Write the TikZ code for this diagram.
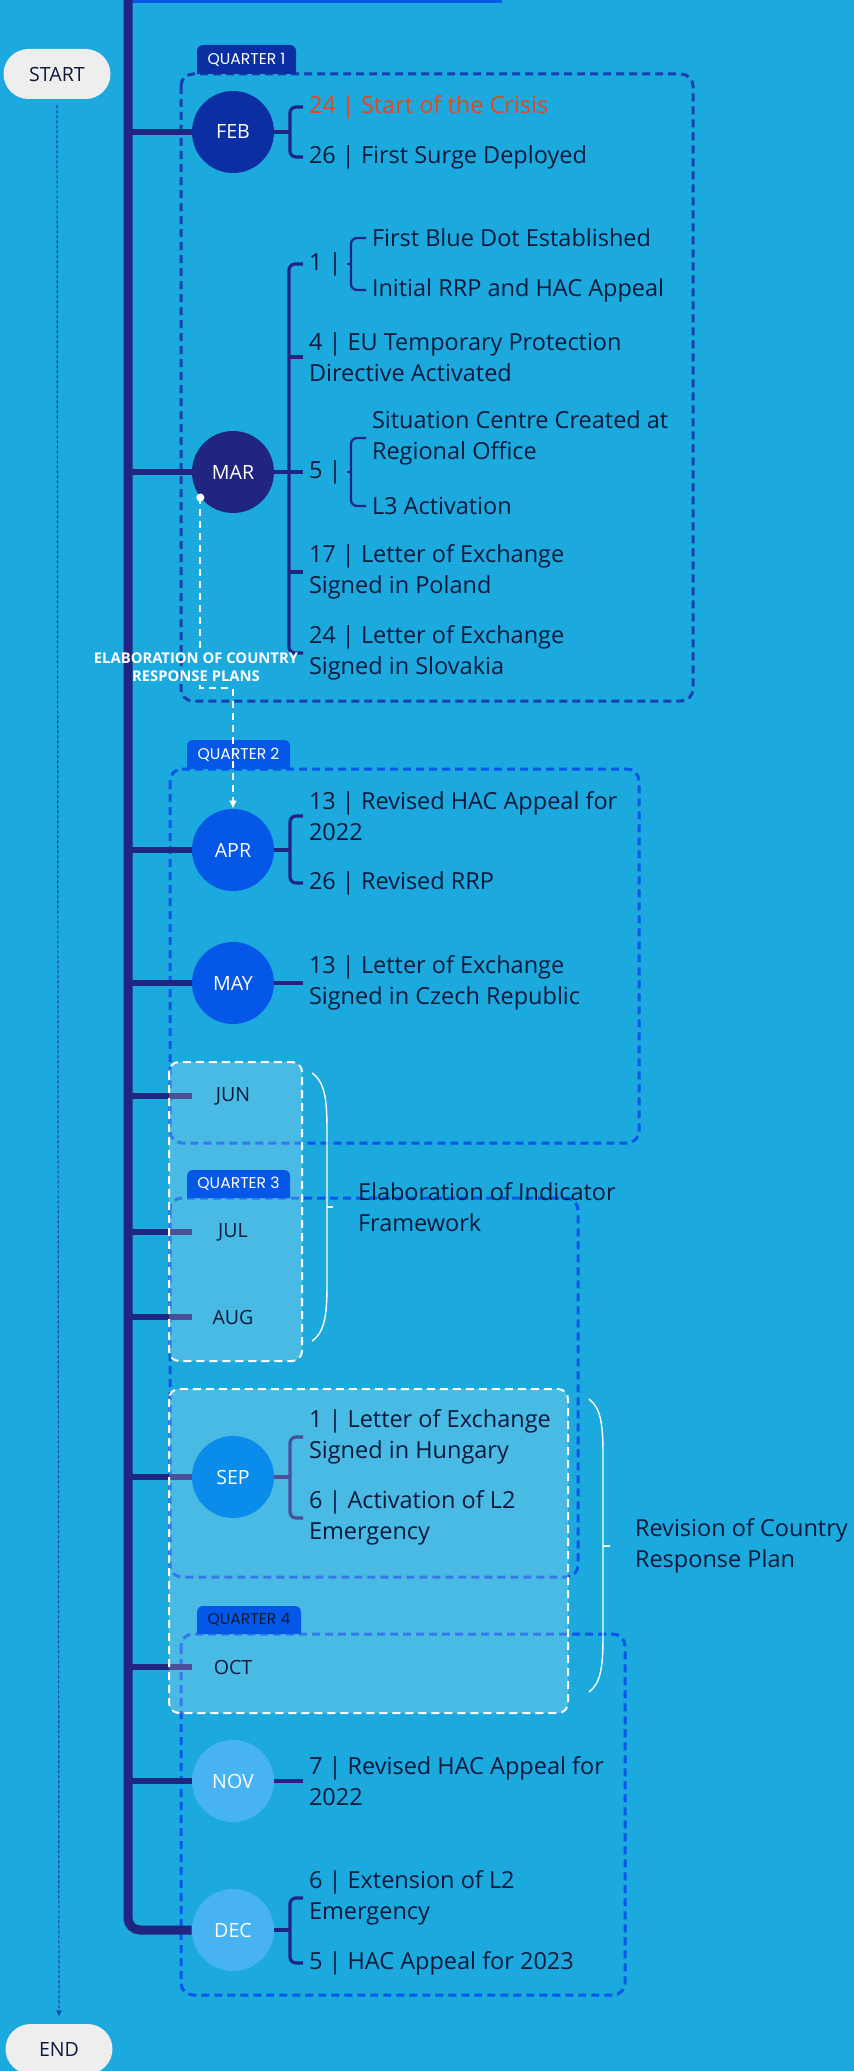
\documentclass[tikz,border=0pt]{standalone}
\usepackage{fontspec}
\setmainfont{Open Sans}
\newfontfamily\tabfont{Poppins}
\usetikzlibrary{arrows.meta}

\definecolor{bgblue}{HTML}{1BA9DE}
\definecolor{navy}{HTML}{1F2580}
\definecolor{febblue}{HTML}{0B2FA3}
\definecolor{brightblue}{HTML}{0557E8}
\definecolor{sepblue}{HTML}{0A8DEA}
\definecolor{lightblue}{HTML}{48B3F3}
\definecolor{qoneline}{HTML}{1540B0}
\definecolor{txtdark}{HTML}{0E1A3C}
\definecolor{crisis}{HTML}{E8461C}
\definecolor{pillgray}{HTML}{EEEEEE}

\pgfdeclarelayer{back}
\pgfdeclarelayer{veil}
\pgfsetlayers{back,veil,main}

\newcommand{\itemfont}{\fontsize{11.75pt}{15.5pt}\selectfont}
\newcommand{\monthfont}{\fontsize{9.8pt}{11pt}\selectfont}
\newcommand{\tabsize}{\tabfont\fontsize{7.8pt}{9pt}\selectfont}
\newcommand{\cpfont}{\bfseries\fontsize{7.4pt}{9pt}\selectfont}

\begin{document}
\begin{tikzpicture}[x=0.5pt,y=-0.5pt,
  month/.style={circle,minimum size=41pt,inner sep=0pt,text=white,font=\monthfont},
  monthtxt/.style={month,text=txtdark},
  itemtext/.style={anchor=west,align=left,inner sep=0pt,outer sep=3pt,text=txtdark,font=\itemfont},
  pill/.style={fill=pillgray,rounded corners=12.5pt,minimum width=53.5pt,minimum height=25pt,text=txtdark,font=\monthfont},
  tabtext/.style={text=white,font=\tabsize,inner sep=0pt},
  timeline/.style={draw=navy,line width=4.5pt,rounded corners=6pt},
  branch/.style={draw=navy,line width=3pt},
  bracketline/.style={draw=navy,line width=1.6pt,rounded corners=3pt},
  subbracket/.style={draw=navy,line width=1.1pt,rounded corners=3pt},
  qbox/.style={draw=brightblue,line width=1.5pt,dash pattern=on 4pt off 2.5pt,rounded corners=6pt},
  wbox/.style={draw=white,fill=white,fill opacity=0.2,draw opacity=1,line width=1pt,dash pattern=on 4pt off 2.5pt,rounded corners=5pt},
  bracecurve/.style={draw=white,line width=0.7pt},
  cpline/.style={draw=white,line width=1pt,dash pattern=on 3.5pt off 2.5pt},
  startline/.style={draw=qoneline,line width=0.6pt,dash pattern=on 1.5pt off 1pt}]

\useasboundingbox (0,0) rectangle (854,2071);

% background and quarters
\begin{pgfonlayer}{back}
\fill[bgblue] (0,0) rectangle (854,2071);
\draw[brightblue,line width=2pt] (125,1) -- (502,1);
\draw[qbox,draw=qoneline] (181,74) rectangle (693,701);
\draw[qbox] (170,769) rectangle (639,1143);
\draw[qbox] (170,1198) rectangle (578,1577);
\draw[qbox] (181,1634) rectangle (625,1995);
\end{pgfonlayer}

% start / end
\node[pill] (start) at (57,74) {START};
\node[pill] (end) at (59,2049) {END};

% months
\node[month,fill=febblue] (feb) at (233,132) {FEB};
\node[month,fill=navy] (mar) at (233,472) {MAR};
\node[month,fill=brightblue] (apr) at (233,850) {APR};
\node[month,fill=brightblue] (may) at (233,983) {MAY};
\node[monthtxt] (jun) at (233,1096) {JUN};
\node[monthtxt] (jul) at (233,1232) {JUL};
\node[monthtxt] (aug) at (233,1317) {AUG};
\node[month,fill=sepblue] (sep) at (233,1477) {SEP};
\node[monthtxt] (oct) at (233,1667) {OCT};
\node[month,fill=lightblue] (nov) at (233,1781) {NOV};
\node[month,fill=lightblue] (dec) at (233,1930) {DEC};

% events
\node[itemtext,text=crisis] (f1) at (303,107) {24 | Start of the Crisis};
\node[itemtext] (f2) at (303,157) {26 | First Surge Deployed};
\node[itemtext] (m1) at (303,264) {1 |};
\node[itemtext] (m1a) at (366,238) {First Blue Dot Established};
\node[itemtext] (m1b) at (366,290) {Initial RRP and HAC Appeal};
\node[itemtext] (m2) at (303,357) {4 | EU Temporary Protection\\Directive Activated};
\node[itemtext] (m3) at (303,472) {5 |};
\node[itemtext] (m3a) at (366,438) {Situation Centre Created at\\Regional Office};
\node[itemtext] (m3b) at (366,506) {L3 Activation};
\node[itemtext] (m4) at (303,572) {17 | Letter of Exchange\\Signed in Poland};
\node[itemtext] (m5) at (303,653) {24 | Letter of Exchange\\Signed in Slovakia};
\node[itemtext] (a1) at (303,816) {13 | Revised HAC Appeal for\\2022};
\node[itemtext] (a2) at (303,883) {26 | Revised RRP};
\node[itemtext] (y1) at (303,983) {13 | Letter of Exchange\\Signed in Czech Republic};
\node[itemtext] (s1) at (303,1437) {1 | Letter of Exchange\\Signed in Hungary};
\node[itemtext] (s2) at (303,1518) {6 | Activation of L2\\Emergency};
\node[itemtext] (n1) at (303,1781) {7 | Revised HAC Appeal for\\2022};
\node[itemtext] (d1) at (303,1898) {6 | Extension of L2\\Emergency};
\node[itemtext] (d2) at (303,1963) {5 | HAC Appeal for 2023};

\node[itemtext] (indlab) at (352,1207) {Elaboration of Indicator\\Framework};
\node[itemtext] (revlab) at (629,1546) {Revision of Country\\Response Plan};

\coordinate (tltop) at (128,0);
\coordinate (febk) at (290,132);
\coordinate (mark) at (289,472);
\coordinate (m1k) at (351,264);
\coordinate (m3k) at (351,472);
\coordinate (aprk) at (290,850);
\coordinate (sepk) at (290,1477);
\coordinate (deck) at (290,1930);

% lines
\begin{pgfonlayer}{back}
\draw[startline,-{Latex[length=3pt,width=3pt]},shorten <=3pt,shorten >=3.5pt] (start) -- (end);
\draw[timeline] (tltop) |- (dec);
\foreach \m in {feb,mar,apr,may,jun,jul,aug,sep,oct,nov}
  \draw[branch] (tltop |- \m) -- (\m);

\draw[bracketline] (feb) -- (febk);
\draw[bracketline] (f1.west) -| (febk) |- (f2.west);

\draw[bracketline] (mar) -- (m3.west);
\draw[bracketline] (m1.west) -| (mark) |- (m5.west);
\draw[bracketline] (mark |- m2.west) -- (m2.west);
\draw[bracketline] (mark |- m4.west) -- (m4.west);
\draw[subbracket] (m1.east) -- (m1k);
\draw[subbracket] (m1a.west) -| (m1k) |- (m1b.west);
\draw[subbracket] (m3.east) -- (m3k);
\draw[subbracket] (m3a.west) -| (m3k) |- (m3b.west);

\draw[bracketline] (apr) -- (aprk);
\draw[bracketline] (a1.west) -| (aprk) |- (a2.west);
\draw[bracketline] (may) -- (y1.west);
\draw[bracketline] (sep) -- (sepk);
\draw[bracketline] (s1.west) -| (sepk) |- (s2.west);
\draw[bracketline] (nov) -- (n1.west);
\draw[bracketline] (dec) -- (deck);
\draw[bracketline] (d1.west) -| (deck) |- (d2.west);
\end{pgfonlayer}

% highlighted periods
\begin{pgfonlayer}{veil}
\draw[wbox] (169,1062) rectangle (302,1361);
\draw[wbox] (169,1389) rectangle (568,1713);
\end{pgfonlayer}

% quarter tabs
\fill[febblue] (197,74) [rounded corners=3pt] -- (197,45) -- (296,45) [sharp corners] -- (296,74) -- cycle;
\node[tabtext] (q1) at (246.5,60) {QUARTER 1};
\fill[brightblue] (187,769) [rounded corners=3pt] -- (187,740) -- (290,740) [sharp corners] -- (290,769) -- cycle;
\node[tabtext] (q2) at (238.5,755) {QUARTER 2};
\fill[brightblue] (187,1198) [rounded corners=3pt] -- (187,1170) -- (290,1170) [sharp corners] -- (290,1198) -- cycle;
\node[tabtext] (q3) at (238.5,1184) {QUARTER 3};
\fill[brightblue] (197,1634) [rounded corners=3pt] -- (197,1606) -- (301,1606) [sharp corners] -- (301,1634) -- cycle;
\node[tabtext,text=txtdark] (q4) at (249,1620) {QUARTER 4};

% braces
\draw[bracecurve] (312,1073) .. controls (325,1082) and (327,1100) .. (327,1130) -- (327,1284) .. controls (327,1314) and (325,1332) .. (312,1341);
\draw[bracecurve] (327,1207) -- (333,1207);
\draw[bracecurve] (589,1399) .. controls (601,1408) and (603,1425) .. (603,1455) -- (603,1636) .. controls (603,1666) and (601,1683) .. (589,1692);
\draw[bracecurve] (603,1546) -- (610,1546);

% country response plans
\coordinate (cpdot) at (mar.218);
\fill[white] (cpdot) circle (2pt);
\node[text=white,font=\cpfont,align=center,inner sep=0pt,outer sep=2pt] (cplab) at (196,667) {ELABORATION OF COUNTRY\\RESPONSE PLANS};
\draw[cpline] (cpdot) -- (cpdot |- cplab.north);
\draw[cpline,-{Latex[length=4pt,width=4pt]}] (cpdot |- cplab.south) -- ++(0,3) -| (apr);

\end{tikzpicture}
\end{document}
